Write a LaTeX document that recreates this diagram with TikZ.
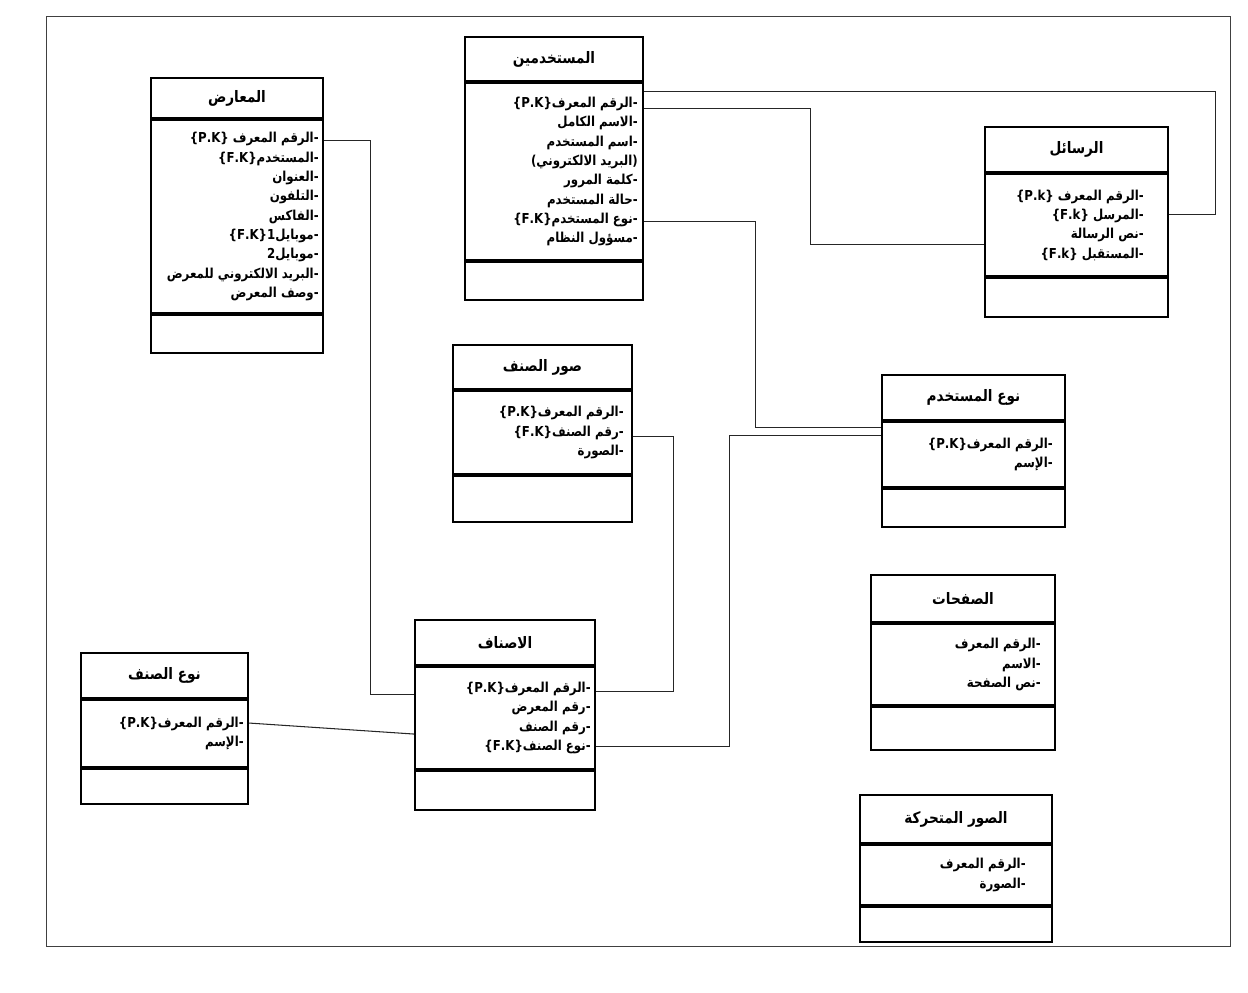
\documentclass[tikz,border=0pt]{standalone}
\usepackage{fontspec}
\setmainfont{DejaVu Sans}
\newfontfamily\arabicfont[Script=Arabic, FakeStretch=0.86]{DejaVu Sans}
\TeXXeTstate=1
\usetikzlibrary{positioning,calc}
\newcommand{\arline}[1]{\beginR#1\endR}
\newcommand{\keytag}[1]{\beginL\{#1\}\endL}
\tikzset{
  wire/.style={draw=black!85, line width=0.6pt},
  frame/.style={draw=black!75, line width=0.5pt},
  head/.style={
    draw=black,
    fill=white,
    line width=1.2pt,
    inner sep=0pt,
    font=\arabicfont\bfseries\fontsize{9}{11}\selectfont
  },
  body/.style={draw=black, fill=white, line width=1.2pt, inner sep=0pt},
  foot/.style={draw=black, fill=white, line width=1.2pt, inner sep=0pt},
  attrs/.style={
    anchor=east,
    align=right,
    inner sep=0pt,
    font=\arabicfont\bfseries\fontsize{7.8}{11}\selectfont
  }
}

\begin{document}
\begin{tikzpicture}[x=0.02cm, y=-0.02cm]
  \useasboundingbox (0,0) rectangle (1248,993);
  \draw[frame] (46,16) rectangle (1230,946);

  % tables: title, attributes, empty methods part
  \node[head, minimum width=3.44cm, minimum height=0.80cm] (mar-h) at (237,98) {\arline{المعارض}};
  \node[body, minimum width=3.44cm, minimum height=3.86cm, below=0pt of mar-h] (mar-b) {};
  \node[foot, minimum width=3.44cm, minimum height=0.76cm, below=0pt of mar-b] (mar-f) {};
  \node[attrs] (mar-t) at ([xshift=-0.1cm]mar-b.east) {%
    \arline{-الرقم المعرف \keytag{P.K}}\\
    \arline{-المستخدم\keytag{F.K}}\\
    \arline{-العنوان}\\
    \arline{-التلفون}\\
    \arline{-الفاكس}\\
    \arline{-موبايل1\keytag{F.K}}\\
    \arline{-موبايل2}\\
    \arline{-البريد الالكتروني للمعرض}\\
    \arline{-وصف المعرض}};

  \node[head, minimum width=3.56cm, minimum height=0.88cm] (usr-h) at (554,59) {\arline{المستخدمين}};
  \node[body, minimum width=3.56cm, minimum height=3.54cm, below=0pt of usr-h] (usr-b) {};
  \node[foot, minimum width=3.56cm, minimum height=0.76cm, below=0pt of usr-b] (usr-f) {};
  \node[attrs] (usr-t) at ([xshift=-0.12cm]usr-b.east) {%
    \arline{-الرقم المعرف\keytag{P.K}}\\
    \arline{-الاسم الكامل}\\
    \arline{-اسم المستخدم}\\
    \arline{(البريد الالكتروني)}\\
    \arline{-كلمة المرور}\\
    \arline{-حالة المستخدم}\\
    \arline{-نوع المستخدم\keytag{F.K}}\\
    \arline{-مسؤول النظام}};

  \node[head, minimum width=3.66cm, minimum height=0.90cm] (msg-h) at (1076.5,149.5) {\arline{الرسائل}};
  \node[body, minimum width=3.66cm, minimum height=2.04cm, below=0pt of msg-h] (msg-b) {};
  \node[foot, minimum width=3.66cm, minimum height=0.78cm, below=0pt of msg-b] (msg-f) {};
  \node[attrs] (msg-t) at ([xshift=-0.5cm]msg-b.east) {%
    \arline{-الرقم المعرف \keytag{P.k}}\\
    \arline{-المرسل \keytag{F.k}}\\
    \arline{-نص الرسالة}\\
    \arline{-المستقبل \keytag{F.k}}};

  \node[head, minimum width=3.58cm, minimum height=0.88cm] (sor-h) at (542.5,367) {\arline{صور الصنف}};
  \node[body, minimum width=3.58cm, minimum height=1.66cm, below=0pt of sor-h] (sor-b) {};
  \node[foot, minimum width=3.58cm, minimum height=0.92cm, below=0pt of sor-b] (sor-f) {};
  \node[attrs] (sor-t) at ([xshift=-0.18cm]sor-b.east) {%
    \arline{-الرقم المعرف\keytag{P.K}}\\
    \arline{-رقم الصنف\keytag{F.K}}\\
    \arline{-الصورة}};

  \node[head, minimum width=3.66cm, minimum height=0.90cm] (ntu-h) at (973.5,397.5) {\arline{نوع المستخدم}};
  \node[body, minimum width=3.66cm, minimum height=1.30cm, below=0pt of ntu-h] (ntu-b) {};
  \node[foot, minimum width=3.66cm, minimum height=0.76cm, below=0pt of ntu-b] (ntu-f) {};
  \node[attrs] (ntu-t) at ([xshift=-0.26cm]ntu-b.east) {%
    \arline{-الرقم المعرف\keytag{P.K}}\\
    \arline{-الإسم}};

  \node[head, minimum width=3.60cm, minimum height=0.90cm] (asn-h) at (505,642.5) {\arline{الاصناف}};
  \node[body, minimum width=3.60cm, minimum height=2.04cm, below=0pt of asn-h] (asn-b) {};
  \node[foot, minimum width=3.60cm, minimum height=0.78cm, below=0pt of asn-b] (asn-f) {};
  \node[attrs] (asn-t) at ([xshift=-0.1cm]asn-b.east) {%
    \arline{-الرقم المعرف\keytag{P.K}}\\
    \arline{-رقم المعرض}\\
    \arline{-رقم الصنف}\\
    \arline{-نوع الصنف\keytag{F.K}}};

  \node[head, minimum width=3.34cm, minimum height=0.90cm] (nts-h) at (164.5,675.5) {\arline{نوع الصنف}};
  \node[body, minimum width=3.34cm, minimum height=1.34cm, below=0pt of nts-h] (nts-b) {};
  \node[foot, minimum width=3.34cm, minimum height=0.70cm, below=0pt of nts-b] (nts-f) {};
  \node[attrs] (nts-t) at ([xshift=-0.1cm]nts-b.east) {%
    \arline{-الرقم المعرف\keytag{P.K}}\\
    \arline{-الإسم}};

  \node[head, minimum width=3.68cm, minimum height=0.94cm] (pag-h) at (963,598.5) {\arline{الصفحات}};
  \node[body, minimum width=3.68cm, minimum height=1.62cm, below=0pt of pag-h] (pag-b) {};
  \node[foot, minimum width=3.68cm, minimum height=0.86cm, below=0pt of pag-b] (pag-f) {};
  \node[attrs] (pag-t) at ([xshift=-0.3cm]pag-b.east) {%
    \arline{-الرقم المعرف}\\
    \arline{-الاسم}\\
    \arline{-نص الصفحة}};

  \node[head, minimum width=3.84cm, minimum height=0.96cm] (ani-h) at (956,819) {\arline{الصور المتحركة}};
  \node[body, minimum width=3.84cm, minimum height=1.20cm, below=0pt of ani-h] (ani-b) {};
  \node[foot, minimum width=3.84cm, minimum height=0.70cm, below=0pt of ani-b] (ani-f) {};
  \node[attrs] (ani-t) at ([xshift=-0.54cm]ani-b.east) {%
    \arline{-الرقم المعرف}\\
    \arline{-الصورة}};

  % row ends used by the links
  \coordinate (usr-pk-a) at ($(usr-b.north east)+(0,9)$);
  \coordinate (usr-pk-b) at ($(usr-b.north east)+(0,26)$);
  \coordinate (usr-typ) at ($(usr-b.north east)+(0,139)$);
  \coordinate (msg-snd) at ($(msg-b.north east)+(0,41)$);
  \coordinate (msg-rcv) at ($(msg-b.north west)+(0,71)$);
  \coordinate (ntu-in-a) at ($(ntu-b.north west)+(0,6)$);
  \coordinate (ntu-in-b) at ($(ntu-b.north west)+(0,14)$);
  \coordinate (mar-pk) at ($(mar-b.north east)+(0,21)$);
  \coordinate (sor-fk) at ($(sor-b.north east)+(0,46)$);
  \coordinate (asn-pk-l) at ($(asn-b.north west)+(0,28)$);
  \coordinate (asn-pk-r) at ($(asn-b.north east)+(0,25)$);
  \coordinate (asn-nm) at ($(asn-b.north west)+(0,68)$);
  \coordinate (asn-typ) at ($(asn-b.north east)+(0,80)$);
  \coordinate (nts-pk) at ($(nts-b.north east)+(0,24)$);

  \draw[wire] (usr-pk-a) -| ($(msg-snd)+(46,0)$) -- (msg-snd);
  \draw[wire] (usr-pk-b) -| ($(msg-rcv)+(-173,0)$) -- (msg-rcv);
  \draw[wire] (usr-typ) -| ($(ntu-in-a)+(-125,0)$) -- (ntu-in-a);
  \draw[wire] (mar-pk) -| ($(asn-pk-l)+(-43,0)$) -- (asn-pk-l);
  \draw[wire] (sor-fk) -| ($(asn-pk-r)+(77,0)$) -- (asn-pk-r);
  \draw[wire] (nts-pk) -- (asn-nm);
  \draw[wire] (asn-typ) -| ($(ntu-in-b)+(-151,0)$) -- (ntu-in-b);
\end{tikzpicture}
\end{document}
